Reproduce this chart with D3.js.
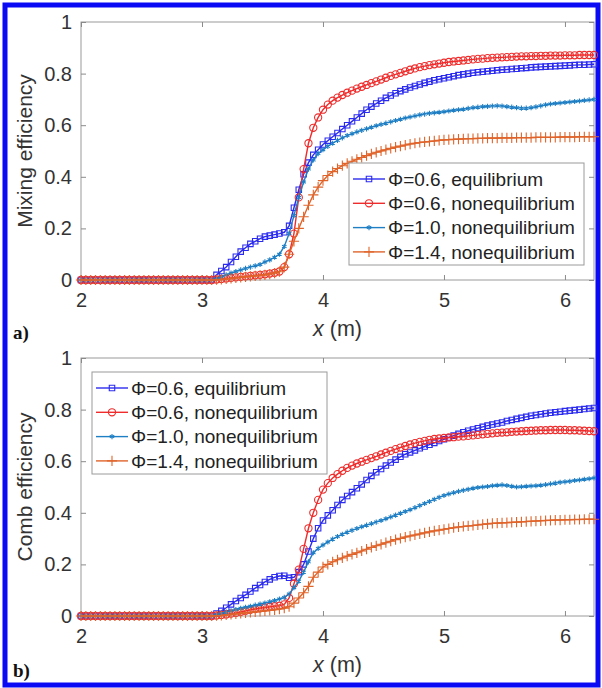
<!DOCTYPE html>
<html>
<head>
<meta charset="utf-8">
<script src="https://cdn.jsdelivr.net/npm/d3@7"></script>
<style>
    body { margin: 0; background: #fff; }
    svg text { font-family: "Liberation Sans", Arial, sans-serif; }
</style>
</head>
<body>
<svg id="fig" width="602" height="688"></svg>
<script>
// positions along the duct (m)
const xs = [
    2.00,2.04,2.08,2.12,2.16,2.20,2.24,2.28,2.32,2.36,
    2.40,2.44,2.48,2.52,2.56,2.60,2.64,2.68,2.72,2.76,
    2.80,2.84,2.88,2.92,2.96,3.00,3.04,3.08,
    3.12,3.16,3.20,3.24,3.28,3.32,3.36,3.40,3.44,3.48,
    3.52,3.56,3.60,3.64,3.68,3.72,3.76,3.80,3.84,3.88,
    3.92,3.96,4.00,4.04,4.08,4.12,4.16,4.20,4.24,4.28,
    4.32,4.36,4.40,4.44,4.48,4.52,4.56,4.60,4.64,4.68,
    4.72,4.76,4.80,4.84,4.88,4.92,4.96,5.00,5.04,5.08,
    5.12,5.16,5.20,5.24,5.28,5.32,5.36,5.40,5.44,5.48,
    5.52,5.56,5.60,5.64,5.68,5.72,5.76,5.80,5.84,5.88,
    5.92,5.96,6.00,6.04,6.08,6.12,6.16,6.20,6.24
];

const seriesNames = [
    'Φ=0.6, equilibrium',
    'Φ=0.6, nonequilibrium',
    'Φ=1.0, nonequilibrium',
    'Φ=1.4, nonequilibrium'
];

// a) mixing efficiency
const mixEq06 = [
    0,0,0,0,0,0,0,0,0,0, 0,0,0,0,0,0,0,0,0,0, 0,0,0,0,0,0,0,0,
    0.02,0.035,0.05,0.07,0.09,0.11,0.125,0.14,0.15,0.16,
    0.168,0.172,0.176,0.18,0.185,0.21,0.28,0.35,0.41,0.455,
    0.485,0.505,0.525,0.54,0.555,0.57,0.585,0.60,0.615,0.63,
    0.645,0.66,0.672,0.684,0.695,0.706,0.715,0.724,0.732,0.739,
    0.746,0.752,0.758,0.764,0.769,0.774,0.778,0.782,0.786,0.790,
    0.794,0.797,0.800,0.803,0.805,0.807,0.809,0.811,0.813,0.815,
    0.816,0.818,0.819,0.821,0.822,0.824,0.825,0.826,0.827,0.828,
    0.829,0.830,0.831,0.832,0.833,0.834,0.834,0.835,0.836
];
const mixNeq06 = [
    0,0,0,0,0,0,0,0,0,0, 0,0,0,0,0,0,0,0,0,0, 0,0,0,0,0,0,0,0,
    0.002,0.004,0.006,0.008,0.01,0.012,0.014,0.016,0.018,0.02,
    0.022,0.025,0.028,0.033,0.05,0.10,0.18,0.32,0.43,0.53,
    0.59,0.63,0.66,0.68,0.695,0.707,0.717,0.726,0.734,0.742,
    0.749,0.756,0.763,0.770,0.777,0.784,0.791,0.797,0.803,0.809,
    0.815,0.820,0.825,0.829,0.833,0.836,0.839,0.842,0.845,0.847,
    0.849,0.851,0.853,0.855,0.857,0.858,0.860,0.861,0.862,0.863,
    0.864,0.865,0.866,0.867,0.867,0.868,0.868,0.869,0.869,0.870,
    0.870,0.870,0.871,0.871,0.871,0.872,0.872,0.872,0.872
];
const mixNeq10 = [
    0,0,0,0,0,0,0,0,0,0, 0,0,0,0,0,0,0,0,0,0, 0,0,0,0,0,0,0,0,
    0.005,0.012,0.02,0.027,0.033,0.039,0.045,0.05,0.055,0.06,
    0.07,0.078,0.088,0.10,0.13,0.18,0.25,0.32,0.38,0.43,
    0.465,0.49,0.505,0.518,0.53,0.541,0.551,0.56,0.567,0.574,
    0.58,0.586,0.592,0.598,0.603,0.608,0.613,0.618,0.623,0.628,
    0.632,0.636,0.64,0.643,0.646,0.648,0.65,0.652,0.655,0.658,
    0.66,0.662,0.665,0.668,0.67,0.672,0.673,0.674,0.675,0.674,
    0.672,0.67,0.668,0.666,0.666,0.668,0.671,0.675,0.679,0.682,
    0.684,0.686,0.688,0.69,0.692,0.694,0.696,0.698,0.70
];
const mixNeq14 = [
    0,0,0,0,0,0,0,0,0,0, 0,0,0,0,0,0,0,0,0,0, 0,0,0,0,0,0,0,0,
    0.001,0.002,0.004,0.006,0.008,0.01,0.012,0.014,0.016,0.018,
    0.02,0.023,0.027,0.032,0.05,0.10,0.15,0.20,0.245,0.29,
    0.33,0.36,0.385,0.405,0.42,0.432,0.443,0.452,0.46,0.468,
    0.475,0.482,0.489,0.495,0.5,0.505,0.51,0.515,0.519,0.523,
    0.527,0.53,0.533,0.535,0.537,0.539,0.541,0.543,0.544,0.545,
    0.546,0.547,0.548,0.548,0.549,0.549,0.55,0.55,0.55,0.551,
    0.551,0.551,0.552,0.552,0.552,0.552,0.553,0.553,0.553,0.553,
    0.553,0.554,0.554,0.554,0.554,0.555,0.555,0.555,0.555
];

// b) combustion efficiency
const combEq06 = [
    0,0,0,0,0,0,0,0,0,0, 0,0,0,0,0,0,0,0,0,0, 0,0,0,0,0,0,0,0,
    0.01,0.02,0.032,0.045,0.058,0.07,0.082,0.095,0.108,0.12,
    0.132,0.142,0.15,0.155,0.156,0.148,0.15,0.17,0.2,0.25,
    0.30,0.34,0.37,0.39,0.41,0.43,0.45,0.465,0.48,0.495,
    0.51,0.527,0.543,0.557,0.57,0.583,0.595,0.606,0.617,0.627,
    0.634,0.642,0.65,0.657,0.664,0.671,0.678,0.685,0.692,0.699,
    0.706,0.712,0.718,0.723,0.728,0.733,0.738,0.742,0.746,0.75,
    0.756,0.76,0.764,0.768,0.772,0.776,0.779,0.782,0.785,0.788,
    0.79,0.792,0.794,0.796,0.798,0.80,0.802,0.804,0.806
];
const combNeq06 = [
    0,0,0,0,0,0,0,0,0,0, 0,0,0,0,0,0,0,0,0,0, 0,0,0,0,0,0,0,0,
    0.002,0.004,0.006,0.009,0.012,0.016,0.02,0.024,0.027,0.03,
    0.033,0.036,0.038,0.04,0.045,0.07,0.125,0.18,0.26,0.34,
    0.40,0.45,0.49,0.515,0.535,0.55,0.563,0.574,0.583,0.591,
    0.598,0.605,0.612,0.619,0.626,0.633,0.64,0.647,0.653,0.659,
    0.665,0.67,0.675,0.679,0.683,0.686,0.688,0.69,0.692,0.693,
    0.695,0.696,0.698,0.70,0.702,0.704,0.706,0.708,0.71,0.711,
    0.712,0.714,0.715,0.716,0.717,0.718,0.719,0.72,0.72,0.721,
    0.721,0.721,0.721,0.72,0.72,0.719,0.718,0.717,0.716
];
const combNeq10 = [
    0,0,0,0,0,0,0,0,0,0, 0,0,0,0,0,0,0,0,0,0, 0,0,0,0,0,0,0,0,
    0.005,0.01,0.015,0.02,0.025,0.03,0.034,0.038,0.042,0.046,
    0.05,0.055,0.06,0.066,0.072,0.085,0.11,0.135,0.17,0.21,
    0.245,0.262,0.275,0.287,0.298,0.308,0.317,0.325,0.332,0.339,
    0.346,0.352,0.358,0.364,0.37,0.377,0.384,0.391,0.398,0.405,
    0.412,0.42,0.428,0.436,0.444,0.452,0.46,0.467,0.473,0.478,
    0.483,0.487,0.491,0.495,0.498,0.5,0.502,0.505,0.507,0.508,
    0.506,0.503,0.5,0.501,0.503,0.504,0.505,0.507,0.509,0.512,
    0.515,0.518,0.52,0.522,0.525,0.527,0.53,0.532,0.535
];
const combNeq14 = [
    0,0,0,0,0,0,0,0,0,0, 0,0,0,0,0,0,0,0,0,0, 0,0,0,0,0,0,0,0,
    0.001,0.002,0.004,0.006,0.008,0.01,0.012,0.014,0.016,0.018,
    0.02,0.022,0.024,0.027,0.03,0.036,0.05,0.07,0.09,0.115,
    0.15,0.17,0.19,0.2,0.21,0.218,0.225,0.232,0.239,0.245,
    0.252,0.259,0.266,0.272,0.278,0.284,0.29,0.296,0.301,0.306,
    0.31,0.314,0.318,0.322,0.326,0.33,0.333,0.336,0.339,0.342,
    0.345,0.347,0.349,0.351,0.353,0.355,0.357,0.359,0.36,0.361,
    0.362,0.363,0.364,0.365,0.366,0.367,0.368,0.369,0.37,0.371,
    0.372,0.372,0.373,0.373,0.374,0.374,0.375,0.375,0.375
];

const xTicks = [2, 3, 4, 5, 6];
const yTicks = [0, 0.2, 0.4, 0.6, 0.8, 1];
const yTickLabels = ['0', '0.2', '0.4', '0.6', '0.8', '1'];

// look of each series (same order as seriesNames)
const styles = [
    {color: '#2b2bef', marker: 'square'},
    {color: '#ef2b2b', marker: 'circle'},
    {color: '#1f7fc4', marker: 'asterisk'},
    {color: '#e0642a', marker: 'plus'}
];

class EffChart {
    constructor (config, series) {
        this.config = {
            parent: config.parent,
            top: config.top,
            left: config.left || 81,
            width: config.width || 513,
            height: config.height || 258,
            ylabel: config.ylabel || '',
            tag: config.tag || '',
            legend: config.legend
        };
        this.series = series;
        this.init();
    }

    init() {
        let self = this;
        const c = self.config;

        self.chart = c.parent.append('g')
            .attr('transform', `translate(${c.left}, ${c.top})`);

        self.xscale = d3.scaleLinear()
            .domain([2, 6.24])
            .range([0, c.width]);
        self.yscale = d3.scaleLinear()
            .domain([0, 1])
            .range([c.height, 0]);

        // box
        self.chart.append('rect')
            .attr('width', c.width)
            .attr('height', c.height)
            .attr('fill', 'none')
            .attr('stroke', '#9a9a9a')
            .attr('stroke-width', 1);

        const tickLen = 5;
        self.chart.append('g')
            .attr('class', 'xaxis')
            .attr('transform', `translate(0, ${c.height})`)
            .call(d3.axisBottom(self.xscale).tickValues(xTicks)
                .tickFormat(d3.format('d')).tickSizeInner(-tickLen).tickSizeOuter(0).tickPadding(13));
        self.chart.append('g')
            .attr('class', 'xaxis')
            .call(d3.axisTop(self.xscale).tickValues(xTicks)
                .tickFormat('').tickSizeInner(-tickLen).tickSizeOuter(0));
        self.chart.append('g')
            .attr('class', 'yaxis')
            .call(d3.axisLeft(self.yscale).tickValues(yTicks)
                .tickFormat((d, i) => yTickLabels[i]).tickSizeInner(-tickLen).tickSizeOuter(0).tickPadding(9));
        self.chart.append('g')
            .attr('class', 'yaxis')
            .attr('transform', `translate(${c.width}, 0)`)
            .call(d3.axisRight(self.yscale).tickValues(yTicks)
                .tickFormat('').tickSizeInner(-tickLen).tickSizeOuter(0));

        self.chart.selectAll('.domain').remove();
        self.chart.selectAll('.tick line').attr('stroke', '#8a8a8a');
        self.chart.selectAll('.tick text')
            .attr('fill', '#333')
            .style('font-size', '20px');

        // x label
        const xl = self.chart.append('text')
            .attr('x', c.width / 2)
            .attr('y', c.height + 56)
            .attr('text-anchor', 'middle')
            .attr('fill', '#333')
            .style('font-size', '21.5px');
        xl.append('tspan').style('font-style', 'italic').text('x');
        xl.append('tspan').text(' (m)');

        // y label
        self.chart.append('text')
            .attr('transform', `translate(${-49}, ${c.height / 2}) rotate(-90)`)
            .attr('text-anchor', 'middle')
            .attr('fill', '#333')
            .style('font-size', '21px')
            .text(c.ylabel);

        // panel tag
        c.parent.append('text')
            .attr('x', 13)
            .attr('y', c.top + c.height + c.tag.y)
            .style('font-family', '"Liberation Serif", "Times New Roman", serif')
            .style('font-weight', 'bold')
            .style('font-size', '19px')
            .attr('fill', '#111')
            .text(c.tag.text);
    }

    marker(g, type, color) {
        if (type === 'circle') {
            g.append('circle').attr('r', 3.6)
                .attr('fill', 'none').attr('stroke', color).attr('stroke-width', 1.1);
        } else {
            const sym = {
                square: d3.symbolSquare,
                asterisk: d3.symbolAsterisk || d3.symbolStar,
                plus: d3.symbolPlus || d3.symbolCross
            }[type];
            const size = {square: 30, asterisk: 18, plus: 36}[type];
            g.append('path')
                .attr('d', d3.symbol().type(sym).size(size)())
                .attr('fill', 'none').attr('stroke', color).attr('stroke-width', 1.1);
        }
    }

    render() {
        let self = this;
        const line = d3.line()
            .x(d => self.xscale(d.x))
            .y(d => self.yscale(d.y));

        self.series.forEach((vals, k) => {
            const st = styles[k];
            const pts = xs.map((x, i) => ({x: x, y: vals[i]}));
            const g = self.chart.append('g');
            g.append('path')
                .datum(pts)
                .attr('d', line)
                .attr('fill', 'none')
                .attr('stroke', st.color)
                .attr('stroke-width', 1.4);
            g.selectAll('g.mk')
                .data(pts)
                .enter()
                .append('g')
                .attr('class', 'mk')
                .attr('transform', d => `translate(${self.xscale(d.x)}, ${self.yscale(d.y)})`)
                .each(function() { self.marker(d3.select(this), st.marker, st.color); });
        });

        // legend
        const lg = self.config.legend;
        const leg = self.chart.append('g')
            .attr('transform', `translate(${lg.x - self.config.left}, ${lg.y - self.config.top})`);
        leg.append('rect')
            .attr('width', 235)
            .attr('height', 102)
            .attr('fill', '#fff')
            .attr('stroke', '#9a9a9a');
        seriesNames.forEach((name, k) => {
            const st = styles[k];
            const row = leg.append('g')
                .attr('transform', `translate(0, ${16 + k * 24.3})`);
            row.append('line')
                .attr('x1', 4).attr('x2', 36)
                .attr('stroke', st.color).attr('stroke-width', 1.4);
            const m = row.append('g').attr('transform', 'translate(20, 0)');
            self.marker(m, st.marker, st.color);
            row.append('text')
                .attr('x', 39)
                .attr('dy', '0.35em')
                .attr('fill', '#222')
                .style('font-size', '19px')
                .text(name);
        });
    }
}

const svg = d3.select('#fig');

// blue frame
svg.append('rect')
    .attr('x', 5).attr('y', 5)
    .attr('width', 593).attr('height', 680)
    .attr('fill', 'none')
    .attr('stroke', '#0a0af5')
    .attr('stroke-width', 5);

const chartA = new EffChart({
    parent: svg, top: 22,
    ylabel: 'Mixing efficiency',
    tag: {text: 'a)', y: 59},
    legend: {x: 349, y: 163}
}, [mixEq06, mixNeq06, mixNeq10, mixNeq14]);
chartA.render();

const chartB = new EffChart({
    parent: svg, top: 358,
    ylabel: 'Comb efficiency',
    tag: {text: 'b)', y: 61},
    legend: {x: 92, y: 372}
}, [combEq06, combNeq06, combNeq10, combNeq14]);
chartB.render();
</script>
</body>
</html>
